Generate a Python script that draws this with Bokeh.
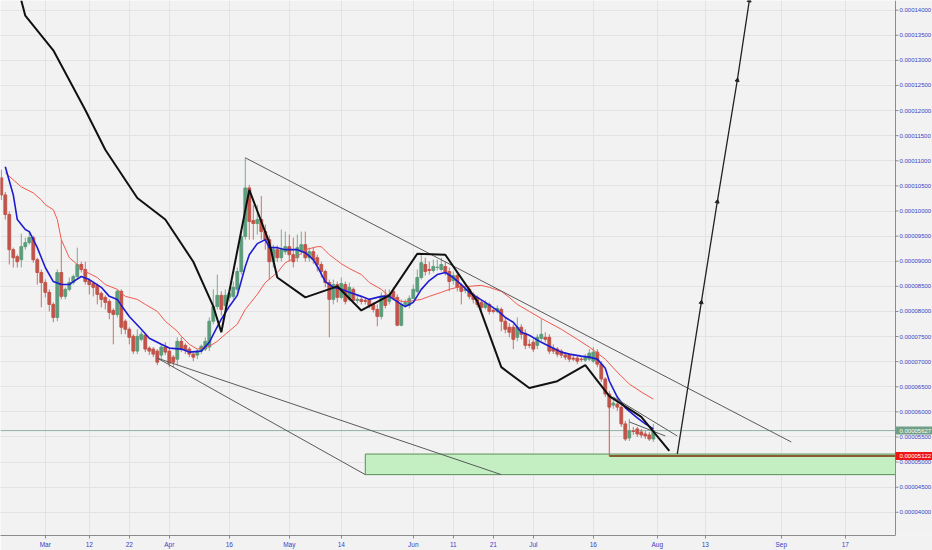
import numpy as np
from bokeh.plotting import figure
from bokeh.models import Range1d, FixedTicker
from bokeh.core.properties import value
from bokeh.embed import file_html
from bokeh.resources import INLINE

SAT = 1e-8  # prices below are in satoshi

# daily candles, day 0 = Mar 1
days = list(range(-11, 153))

opens = [10660, 10320, 9930, 9230, 9090, 9030, 9290, 9370, 9470, 9030,
         8775, 8575, 8380, 8140, 7880, 8775, 8300, 8440, 8575, 8695,
         8935, 8835, 8615, 8555, 8520, 8360, 8280, 8200, 8020, 7940,
         8400, 7805, 7645, 7505, 7210, 7445, 7525, 7270, 7250, 7210,
         7130, 7290, 7210, 7090, 7050, 7405, 7325, 7250, 7150, 7130,
         7210, 7250, 7290, 7805, 8100, 8320, 8120, 8280, 8300, 8440,
         8795, 9490, 10460, 9810, 9750, 9830, 9590, 9430, 8990, 9230,
         9070, 9190, 9290, 9130, 9070, 9190, 9330, 9070, 9190, 9070,
         8935, 8795, 8575, 8240, 8535, 8280, 8535, 8240, 8440, 8220,
         8240, 8220, 8220, 8140, 8040, 7900, 8320, 8200, 8400, 8280,
         7725, 8140, 8120, 8260, 8400, 8675, 8935, 8835, 8815, 8875,
         8835, 8895, 8795, 8615, 8715, 8520, 8420, 8440, 8340, 8280,
         8180, 8080, 8140, 8020, 8000, 8040, 7805, 7685, 7685, 7485,
         7685, 7565, 7345, 7385, 7325, 7465, 7485, 7485, 7270, 7250,
         7210, 7130, 7130, 7070, 7070, 7050, 7030, 7050, 7010, 7190,
         6950, 6655, 6355, 6135, 6155, 6095, 5760, 5480, 5620, 5660,
         5600, 5560, 5540, 5460]

highs = [10820, 10380, 9990, 9270, 9130, 9550, 9470, 9590, 9510, 9070,
         8835, 8635, 8440, 8180, 8835, 9430, 8480, 8675, 8735, 9270,
         8990, 8990, 8655, 8595, 8555, 8400, 8320, 8240, 8060, 8440,
         8440, 7845, 7685, 7545, 7645, 7605, 7565, 7305, 7290, 7250,
         7345, 7385, 7250, 7130, 7485, 7485, 7365, 7290, 7190, 7250,
         7345, 7485, 7880, 8440, 8735, 8400, 8440, 8440, 8595, 8875,
         9590, 11060, 10520, 10120, 10120, 10300, 9730, 9510, 9330, 9310,
         9630, 9590, 9530, 9470, 9530, 9590, 9590, 9270, 9270, 9130,
         8990, 8835, 8635, 8635, 8595, 8675, 8595, 8575, 8480, 8320,
         8300, 8280, 8260, 8180, 8140, 8380, 8440, 8440, 8480, 8340,
         8240, 8240, 8320, 8535, 8835, 9130, 9070, 8990, 9030, 9030,
         9070, 8990, 8875, 8795, 8795, 8555, 8480, 8480, 8380, 8320,
         8220, 8220, 8180, 8060, 8120, 8080, 7880, 7765, 7745, 7880,
         7745, 7645, 7445, 7445, 7545, 7845, 7585, 7545, 7345, 7290,
         7250, 7190, 7170, 7130, 7130, 7110, 7150, 7250, 7290, 7250,
         7010, 6690, 6415, 6255, 6215, 6155, 5820, 5860, 5700, 5700,
         5660, 5620, 5600, 5760]

lows = [10220, 9830, 8935, 8875, 8875, 8875, 9230, 9330, 8970, 8535,
        8080, 8280, 8000, 7785, 7805, 8240, 8240, 8400, 8535, 8635,
        8775, 8535, 8340, 8300, 8140, 8080, 8040, 7845, 7345, 7880,
        7545, 7545, 7345, 7150, 7150, 7405, 7190, 7130, 7090, 6930,
        7050, 7130, 6890, 6890, 6930, 7190, 7150, 7090, 7010, 7050,
        7150, 7210, 7210, 7745, 8040, 7920, 8040, 8200, 8240, 8340,
        8735, 9430, 9430, 9430, 9530, 9430, 9230, 8635, 8875, 8990,
        8990, 9130, 8990, 8875, 8990, 9130, 8990, 8990, 8950, 8795,
        8675, 8480, 7485, 8140, 8180, 8240, 8140, 8200, 8160, 8160,
        8140, 8140, 8060, 7980, 7705, 7845, 8060, 8140, 8220, 7705,
        7705, 8080, 8060, 8240, 8360, 8635, 8715, 8735, 8775, 8815,
        8795, 8715, 8400, 8535, 8400, 8140, 8360, 8240, 8160, 8080,
        8000, 8040, 7940, 7960, 7960, 7605, 7565, 7485, 7250, 7405,
        7445, 7250, 7270, 7190, 7250, 7405, 7385, 7150, 7150, 7090,
        7070, 7030, 6990, 7010, 6950, 6990, 6990, 7010, 6970, 6890,
        6595, 6295, 6060, 6060, 6020, 5700, 5420, 5420, 5540, 5500,
        5480, 5460, 5420, 5400]

closes = [10320, 9930, 9230, 9070, 8990, 9290, 9370, 9470, 9030, 8775,
          8575, 8380, 8140, 7880, 8775, 8300, 8440, 8575, 8695, 8935,
          8835, 8595, 8535, 8480, 8340, 8240, 8180, 7980, 7940, 8400,
          7685, 7645, 7485, 7210, 7505, 7545, 7250, 7210, 7150, 6990,
          7290, 7190, 6970, 6990, 7405, 7250, 7230, 7150, 7090, 7210,
          7305, 7405, 7805, 8100, 8320, 8040, 8320, 8360, 8480, 8795,
          9490, 10460, 9790, 9750, 9830, 9590, 9430, 8990, 9230, 9070,
          9230, 9290, 9130, 8990, 9270, 9330, 9070, 9190, 9030, 8935,
          8795, 8575, 8240, 8535, 8280, 8555, 8200, 8480, 8220, 8240,
          8200, 8200, 8120, 8040, 7900, 8300, 8120, 8340, 8280, 7725,
          8140, 8180, 8260, 8440, 8675, 8970, 8795, 8815, 8895, 8880,
          8935, 8775, 8595, 8715, 8480, 8400, 8440, 8300, 8240, 8140,
          8080, 8160, 8000, 8000, 8060, 7805, 7645, 7585, 7445, 7685,
          7545, 7325, 7325, 7250, 7485, 7545, 7445, 7210, 7210, 7150,
          7130, 7090, 7050, 7050, 7010, 7040, 7090, 7170, 7190, 6950,
          6655, 6355, 6095, 6175, 6095, 5760, 5460, 5620, 5610, 5560,
          5540, 5520, 5460, 5627]

# fast (blue) and slow (red) moving averages
fast_days = [-10, -8, -7, -5, -4, -2, 0, 2, 4, 6, 7, 9, 11, 14, 16, 18, 19, 21, 24, 26,
             29, 31, 34, 36, 39, 41, 42, 44, 46, 48, 50, 51, 53, 55, 56, 58, 60, 63, 65, 67,
             68, 70, 72, 74, 76, 79, 81, 84, 86, 89, 90, 92, 94, 96, 98, 100, 102, 104, 106, 108,
             110, 113, 115, 117, 119, 121, 124, 126, 129, 131, 134, 136, 138, 140, 141, 143, 145, 148, 150, 152]
fast_ma = [10880, 10320, 9830, 9630, 9590, 9270, 8875, 8595, 8535, 8535, 8595, 8695, 8635, 8480, 8300, 8240, 8120, 7900, 7645, 7465,
           7345, 7270, 7250, 7190, 7210, 7385, 7545, 7845, 8100, 8320, 8895, 9130, 9350, 9430, 9270, 9270, 9230, 9230, 9170, 9030,
           8895, 8595, 8480, 8440, 8380, 8300, 8240, 8300, 8300, 8140, 8100, 8180, 8440, 8615, 8735, 8775, 8675, 8535, 8380, 8280,
           8180, 8020, 7880, 7785, 7585, 7525, 7385, 7305, 7190, 7150, 7110, 7090, 7050, 6870, 6615, 6295, 6080, 5880, 5760, 5660]

slow_days = [-10, -8, -6, -3, -1, 0, 2, 3, 4, 6, 8, 10, 13, 15, 18, 20, 23, 25, 28, 30,
             33, 34, 36, 38, 41, 43, 45, 48, 50, 53, 55, 58, 60, 63, 65, 68, 69, 71, 74, 76,
             79, 81, 84, 86, 89, 91, 94, 96, 99, 101, 104, 106, 109, 111, 114, 116, 118, 121, 124, 129,
             133, 136, 140, 143, 146, 149, 152]
slow_ma = [10760, 10620, 10480, 10360, 10220, 10125, 10025, 9830, 9430, 9070, 8935, 8795, 8675, 8535, 8440, 8300, 8240, 8140, 8000, 7805,
           7605, 7505, 7345, 7250, 7305, 7405, 7545, 7745, 8040, 8340, 8575, 8775, 8970, 9090, 9230, 9290, 9290, 9130, 8950, 8855,
           8735, 8575, 8440, 8300, 8200, 8200, 8240, 8300, 8380, 8440, 8500, 8500, 8520, 8480, 8400, 8280, 8140, 8000, 7860, 7645,
           7445, 7290, 7050, 6790, 6555, 6395, 6255]

# hand-drawn projection path
path_days = [-6, -5, 2, 10, 15, 23, 30, 37, 42, 44, 51, 54, 56, 58, 65, 73, 79, 86, 93, 100,
             108, 114, 121, 128, 135, 141, 149, 156]
path_sat = [14190, 13890, 13200, 12010, 11220, 10260, 9830, 8990, 8100, 7585, 10420, 9790, 9370, 8675, 8280, 8500, 8020, 8320, 9150, 9130,
            8200, 6890, 6475, 6610, 6930, 6315, 5900, 5225]

up_days = [158, 164, 168, 173, 176]
up_sat = [5165, 8180, 10185, 12605, 14190]

last_price = 5627
target_price = 5122
zone_low, zone_high = 4750, 5160

tick_days = [0, 11, 21, 31, 46, 61, 74, 92, 102, 112, 122, 137, 153, 165, 184, 200]
tick_names = ["Mar", "12", "22", "Apr", "16", "May", "14", "Jun", "11", "21", "Jul", "16", "Aug", "13", "Sep", "17"]
price_ticks = [4000, 4500, 5000, 5500, 6000, 6500, 7000, 7500, 8000, 8500, 9000,
               9500, 10000, 10500, 11000, 11500, 12000, 12500, 13000, 13500, 14000]

BG = "#f2f2f2"
UP = "#5c9c7a"
DOWN = "#c1544a"
AXIS = "#8c8c8c"
LABEL = "#3d3dc4"
FONT = "Liberation Sans"

x_start, x_end = -11.2, 221.8
axis_day = 212.55          # price scale sits at the right of the chart
y_lo, y_hi = 3538 * SAT, 14192 * SAT

p = figure(width=932, height=550, x_range=Range1d(x_start, x_end), y_range=Range1d(y_lo, y_hi),
           y_axis_location=None, toolbar_location=None, output_backend="svg",
           background_fill_color=BG, border_fill_color=BG,
           min_border_left=0, min_border_top=0, min_border_right=0, min_border_bottom=13)
p.outline_line_color = None

xt = FixedTicker(ticks=tick_days)
p.xaxis.ticker = xt
p.xaxis.major_label_overrides = {d: n for d, n in zip(tick_days, tick_names)}
p.xaxis.bounds = (x_start, axis_day)
p.xaxis.axis_line_color = AXIS
p.xaxis.major_tick_line_color = AXIS
p.xaxis.major_tick_out = 3
p.xaxis.major_tick_in = 0
p.xaxis.minor_tick_line_color = None
p.xaxis.major_label_text_font = FONT
p.xaxis.major_label_text_font_size = "6.5px"
p.xaxis.major_label_text_color = LABEL
p.xaxis.major_label_standoff = 2

p.xgrid.ticker = xt
p.ygrid.ticker = FixedTicker(ticks=[v * SAT for v in price_ticks])
p.grid.grid_line_color = "#e3e3e3"

# support zone and levels
p.quad(left=[80], right=[axis_day], bottom=[zone_low * SAT], top=[zone_high * SAT],
       fill_color="#c3efc3", line_color="#5a8f5a", line_width=1)
p.line([x_start, axis_day], [last_price * SAT] * 2, line_color="#8fb3a2", line_width=1)
p.segment(x0=[141], y0=[6300 * SAT], x1=[141], y1=[target_price * SAT], line_color="#d9534f", line_width=1)
p.line([141, axis_day], [target_price * SAT] * 2, line_color="#8a5a30", line_width=2)

# candles
o = np.array(opens) * SAT
c = np.array(closes) * SAT
colors = [UP if cl >= op else DOWN for op, cl in zip(opens, closes)]
p.segment(x0=days, y0=np.array(lows) * SAT, x1=days, y1=np.array(highs) * SAT,
          line_color=colors, line_alpha=0.8)
p.vbar(x=days, width=0.7, top=np.maximum(o, c), bottom=np.minimum(o, c),
       fill_color=colors, line_color=colors)

# moving averages
p.line(slow_days, np.array(slow_ma) * SAT, line_color="#ef5a50", line_width=1)
p.line(fast_days, np.array(fast_ma) * SAT, line_color="#1c1cd0", line_width=1.6)

# trend lines
p.segment(x0=[50, 28, 28, 142, 146], y0=[11060 * SAT, 7070 * SAT, 7070 * SAT, 6295 * SAT, 5800 * SAT],
          x1=[186.5, 80, 114, 158, 155], y1=[5400 * SAT, 4750 * SAT, 4750 * SAT, 5520 * SAT, 5520 * SAT],
          line_color="#5a5a5a", line_width=1)

# projection
p.line(path_days, np.array(path_sat) * SAT, line_color="#111111", line_width=2)
p.line(up_days, np.array(up_sat) * SAT, line_color="#222222", line_width=1.3)
p.scatter(up_days[1:], np.array(up_sat[1:]) * SAT, marker="triangle", size=4, angle=-0.155,
          fill_color="#222222", line_color="#222222")

# price scale on the right
p.quad(left=[axis_day], right=[x_end], bottom=[y_lo], top=[y_hi], fill_color=BG, line_color=None)
p.segment(x0=[axis_day], y0=[y_lo], x1=[axis_day], y1=[y_hi], line_color=AXIS, line_width=1)
tick_y = [v * SAT for v in price_ticks]
p.segment(x0=[axis_day] * len(tick_y), y0=tick_y, x1=[axis_day + 0.75] * len(tick_y), y1=tick_y,
          line_color=AXIS, line_width=1)
p.text(x=[axis_day + 1.0] * len(tick_y), y=tick_y, text=["%.8f" % v for v in tick_y],
       text_font=value(FONT), text_font_size="6px", text_baseline="middle", text_color=LABEL)

# price tags
tag_y = [last_price * SAT, target_price * SAT]
tag_half = 80 * SAT
p.quad(left=[axis_day] * 2, right=[x_end] * 2, bottom=[t - tag_half for t in tag_y],
       top=[t + tag_half for t in tag_y], fill_color=["#6f9f86", "#f01414"], line_color=None)
p.text(x=[axis_day + 1.0] * 2, y=tag_y, text=["%.8f" % t for t in tag_y],
       text_font=value(FONT), text_font_size="6px", text_baseline="middle", text_color="white")

open("out.html", "w").write(file_html(p, INLINE))
